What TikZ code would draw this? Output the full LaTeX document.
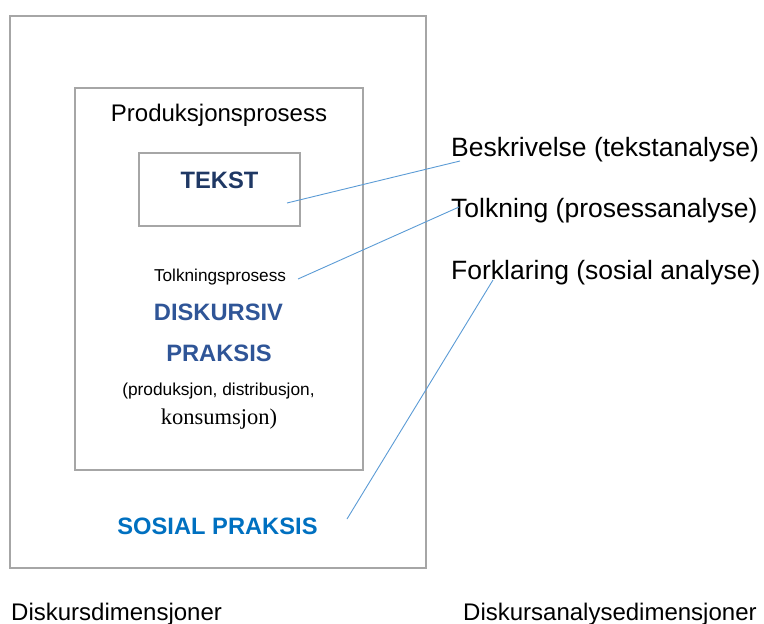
\documentclass[tikz,border=0pt]{standalone}
\usepackage{fontspec}
\setmainfont{Liberation Sans}
\newfontfamily\seriffont{Liberation Serif}
\usepackage{tikz}
\usetikzlibrary{positioning}
\definecolor{boxgray}{HTML}{A6A6A6}
\definecolor{linkblue}{HTML}{5B9BD5}
\definecolor{tekstblue}{HTML}{1F3864}
\definecolor{diskblue}{HTML}{2F5597}
\definecolor{sosblue}{HTML}{0070C0}

\begin{document}
\begin{tikzpicture}[x=1pt, y=-1pt,
  frame/.style={draw=boxgray, line width=2pt, inner sep=0pt},
  txt/.style={inner sep=0pt, anchor=base},
  dimtext/.style={inner sep=0pt, anchor=base west, font=\fontsize{26.5}{30}\selectfont},
  heading/.style={txt, font=\fontsize{23.7}{28}\selectfont\bfseries},
  caption/.style={inner sep=0pt, anchor=base west, font=\fontsize{24}{28}\selectfont},
  link/.style={draw=linkblue, line width=0.9pt},
  ]
  \useasboundingbox (0,0) rectangle (764,624);

  % nested frames
  \node[frame, minimum width=416pt, minimum height=552pt] (sosial) at (218,292) {};
  \node[frame, minimum width=288pt, minimum height=382pt] (diskursiv) at (219,279) {};
  \node[frame, minimum width=161pt, minimum height=73pt] (tekstbox) at (219.5,189.5) {};

  % texts inside the frames
  \node[txt, font=\fontsize{24}{28}\selectfont] (prod) at (219,121) {Produksjonsprosess};
  \node[heading, text=tekstblue] (tekst) at (219.5,188) {TEKST};
  \node[txt, font=\fontsize{17.2}{20}\selectfont] (tolkp) at (220,281) {Tolkningsprosess};
  \node[heading, text=diskblue] (disk) at (218.5,320) {DISKURSIV};
  \node[heading, text=diskblue] (praksis) at (219,361) {PRAKSIS};
  \node[txt, font=\fontsize{17.3}{20}\selectfont] (distr) at (218.5,395) {(produksjon, distribusjon,};
  \node[txt, font=\fontsize{22.5}{26}\selectfont\seriffont] (kons) at (219,424) {konsumsjon)};
  \node[heading, text=sosblue] (sospraksis) at (217.5,534) {SOSIAL PRAKSIS};

  % analysis dimensions
  \node[dimtext] (beskr) at (451,156) {Beskrivelse (tekstanalyse)};
  \node[dimtext] (tolkn) at (451,217) {Tolkning (prosessanalyse)};
  \node[dimtext] (forkl) at (451,279) {Forklaring (sosial analyse)};

  % captions
  \node[caption] (dimleft) at (11,620) {Diskursdimensjoner};
  \node[caption] (dimright) at (463,620) {Diskursanalysedimensjoner};

  % links
  \coordinate (tekstend) at (287,203);
  \coordinate (beskrend) at (460,161);
  \coordinate (tolkstart) at (298,279);
  \coordinate (tolkend) at (459,207);
  \coordinate (sosstart) at (347,519);
  \coordinate (forklend) at (493,280);
  \draw[link] (tekstend) -- (beskrend);
  \draw[link] (tolkstart) -- (tolkend);
  \draw[link] (sosstart) -- (forklend);
\end{tikzpicture}
\end{document}
